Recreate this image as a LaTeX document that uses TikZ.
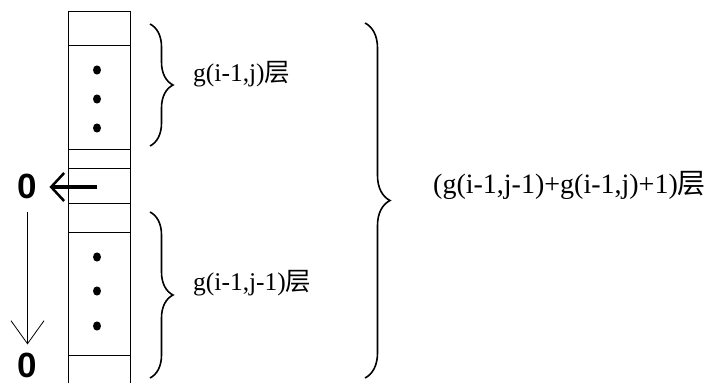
\documentclass[tikz,border=0pt]{standalone}
\usepackage{fontspec}
\setmainfont{Liberation Serif}
\newfontfamily\cjk{Noto Sans CJK SC}
\newfontfamily\zerofont{Liberation Sans}
\usetikzlibrary{arrows.meta,decorations.pathreplacing}
\begin{document}
\begin{tikzpicture}[x=1pt,y=-1pt,
  col/.style={line width=1pt},
  dotmark/.style={fill=black,draw=none},
  bracepath/.style={line width=1.6pt,decorate,decoration={brace,amplitude=#1}},
  lbl/.style={anchor=west,inner sep=0pt,font=\fontsize{25.5}{30}\selectfont},
  zero/.style={inner sep=0pt,font=\zerofont\bfseries\fontsize{35}{40}\selectfont}]
\useasboundingbox (0,0) rectangle (707,383);
% column
\draw[col] (68,383) -- (68,11) -- (130,11) -- (130,383);
\foreach \y in {45,149,168,203,232,355} \draw[col] (68,\y) -- (130,\y);
% dots
\foreach \y in {70,99,128,257,291,326} \fill[dotmark] (97,\y) ellipse (4 and 4.6);
% braces
\draw[bracepath=23pt] (150,24) -- (150,146);
\draw[bracepath=23pt] (150,212) -- (150,378);
\draw[bracepath=25pt] (365,23) -- (365,378);
% labels
\node[lbl] (la) at (193,74) {g(i-1,j){\cjk 层}};
\node[lbl] (lb) at (193,283) {g(i-1,j-1){\cjk 层}};
\node[lbl,font=\fontsize{28}{32}\selectfont] (lc) at (433,185) {(g(i-1,j-1)+g(i-1,j)+1){\cjk 层}};
% zeros and arrows
\node[zero] (zt) at (27.5,186.5) {0};
\node[zero] (zb) at (27.5,365) {0};
\coordinate (src) at (97,187);
\draw[line width=3.5pt,-{Straight Barb[length=13pt,width=28pt,line width=2.5pt]},shorten >=12pt] (src) -- (zt.east |- src);
\draw[line width=0.8pt,-{Straight Barb[length=23pt,width=33pt,line width=0.8pt]},shorten <=13pt,shorten >=8pt] (zt.south) -- (zb.north);
\end{tikzpicture}
\end{document}
